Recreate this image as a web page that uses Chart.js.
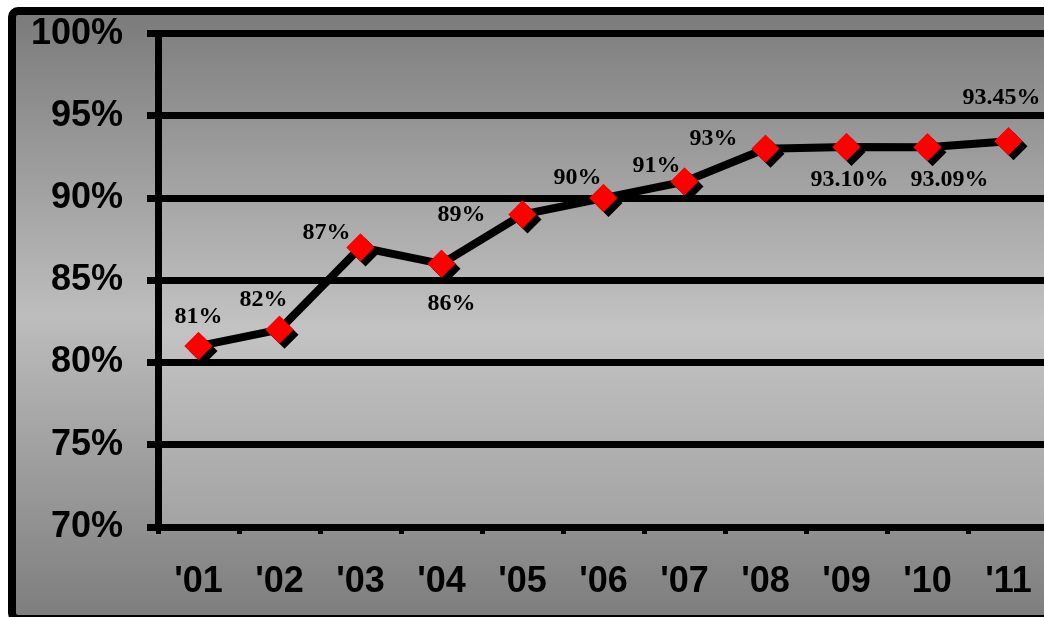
<!DOCTYPE html>
<html>
<head>
<meta charset="utf-8">
<script src="https://cdn.jsdelivr.net/npm/chart.js@4"></script>
<style>
  html, body { margin: 0; padding: 0; background: #fff; overflow: hidden; width: 1044px; height: 617px; }
  #frame {
    position: absolute; left: 8px; top: 7px;
    width: 1060px; height: 600px;
    border: 8px solid #000; border-radius: 10px;
    background: linear-gradient(to bottom, #7b7b7b 0%, #bdbdbd 50%, #7e7e7e 100%);
  }
  canvas { display: block; position: relative; top: -27px; }
</style>
</head>
<body>
<div id="frame"><canvas id="myChart" width="1060" height="626"></canvas></div>
<script>
const years = ["'01", "'02", "'03", "'04", "'05", "'06", "'07", "'08", "'09", "'10", "'11"];
const rates = [81, 82, 87, 86, 89, 90, 91, 93, 93.10, 93.09, 93.45];
const yTicks = [70, 75, 80, 85, 90, 95, 100];

// where each value label sits, relative to its point (px)
const labelOffsets = [[0, -29], [-16, -30], [-34, -15], [10, 40], [-61, 0], [-26, -20],
                      [-28, -16], [-52, -10], [3, 33], [22, 33], [-7, -44]];

const plotBg = {
  id: 'plotBg',
  beforeDraw(chart) {
    const { ctx, chartArea: a } = chart;
    const g = ctx.createLinearGradient(0, a.top, 0, a.bottom);
    g.addColorStop(0, '#818181');
    g.addColorStop(0.6, '#c3c3c3');
    g.addColorStop(1, '#a3a3a3');
    ctx.save();
    ctx.fillStyle = g;
    ctx.fillRect(a.left, a.top, a.right - a.left, a.bottom - a.top);
    ctx.restore();
  }
};

// redraw the markers with a hard black drop shadow
const markerShadow = {
  id: 'markerShadow',
  afterDatasetsDraw(chart) {
    const c = chart.ctx;
    const meta = chart.getDatasetMeta(0);
    c.save();
    c.shadowColor = '#000';
    c.shadowBlur = 0;
    c.shadowOffsetX = 5;
    c.shadowOffsetY = 5;
    meta.data.forEach(pt => pt.draw(c, chart.chartArea));
    c.restore();
  }
};

const valueLabels = {
  id: 'valueLabels',
  afterDatasetsDraw(chart) {
    const ctx = chart.ctx;
    const meta = chart.getDatasetMeta(0);
    ctx.save();
    ctx.font = 'bold 24px "Liberation Serif", "Times New Roman", serif';
    ctx.fillStyle = '#000';
    ctx.textAlign = 'center';
    ctx.textBaseline = 'middle';
    meta.data.forEach((pt, i) => {
      const v = rates[i];
      const txt = (Number.isInteger(v) ? v : v.toFixed(2)) + '%';
      const off = labelOffsets[i];
      ctx.fillText(txt, pt.x + off[0], pt.y + off[1]);
    });
    ctx.restore();
  }
};

const ctx = document.getElementById('myChart');
const myChart = new Chart(ctx, {
  type: 'line',
  data: {
    labels: years,
    datasets: [{
      data: rates,
      borderColor: '#000',
      borderWidth: 8,
      tension: 0,
      pointStyle: 'rectRot',
      pointRadius: 14,
      pointHoverRadius: 14,
      pointBackgroundColor: '#ff0000',
      pointBorderWidth: 0
    }]
  },
  options: {
    responsive: false,
    animation: false,
    devicePixelRatio: 1,
    layout: { padding: { top: -9, right: 27, left: 0, bottom: 0 } },
    plugins: { legend: { display: false }, tooltip: { enabled: false } },
    scales: {
      x: {
        offset: true,
        grid: { offset: true, drawOnChartArea: false, color: '#000', lineWidth: 5, tickLength: 7 },
        border: { color: '#000', width: 7 },
        ticks: {
          color: '#000',
          padding: 26,
          maxRotation: 0,
          font: { family: 'Liberation Sans', size: 36, weight: 'bold' }
        },
        afterFit(s) { s.height = 87; }
      },
      y: {
        min: 70,
        max: 100,
        afterBuildTicks(s) { s.ticks = yTicks.map(v => ({ value: v })); },
        grid: { color: '#000', lineWidth: 7, tickLength: 11 },
        border: { color: '#000', width: 7 },
        ticks: {
          color: '#000',
          padding: 24,
          font: { family: 'Liberation Sans', size: 36, weight: 'bold' },
          callback: v => v + '%'
        },
        afterFit(s) { s.width = 142; }
      }
    }
  },
  plugins: [plotBg, markerShadow, valueLabels]
});
</script>
</body>
</html>
